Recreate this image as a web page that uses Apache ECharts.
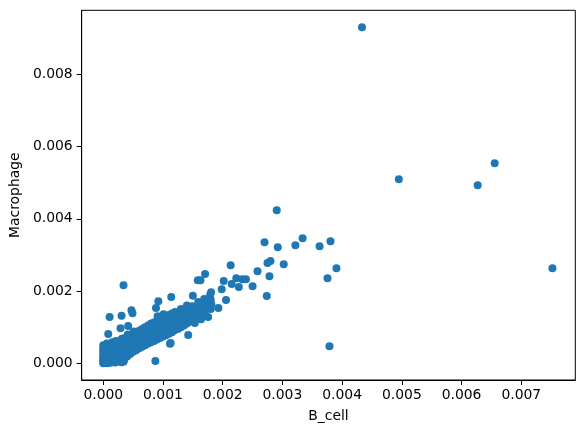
<!DOCTYPE html>
<html>
<head>
<meta charset="utf-8">
<script src="https://cdn.jsdelivr.net/npm/echarts@6/dist/echarts.min.js"></script>
<style>
  html, body { margin: 0; padding: 0; background: #fff; }
  #chart { width: 584px; height: 433px; }
</style>
</head>
<body>
<div id="chart"></div>
<script>
// B_cell vs Macrophage, one point per sample
const bCell = [
  // dense cluster near the origin
  0.0, 0.0, 0.0, 0.0, 0.0, 0.0, 0.0, 0.0, 0.0,
  0.00003, 0.00003, 0.00003, 0.00003,
  0.00006, 0.00006, 0.00006, 0.00006, 0.00007, 0.00006,
  0.0001, 0.0001, 0.00011, 0.0001, 0.0001,
  0.00015, 0.00014, 0.00015, 0.00016, 0.00015,
  0.0002, 0.00021, 0.0002, 0.00019, 0.0002, 0.00021,
  0.00025, 0.00024, 0.00026, 0.00025, 0.00025,
  0.0003, 0.00031, 0.0003, 0.00029, 0.0003, 0.00031, 0.00034,
  0.00035, 0.00036, 0.00035, 0.00034, 0.00035, 0.00036,
  0.0004, 0.00041, 0.0004, 0.00039, 0.0004, 0.00041,
  0.00045, 0.00046, 0.00045, 0.00044, 0.00045,
  0.0005, 0.00051, 0.0005, 0.00049, 0.0005, 0.00051,
  0.00055, 0.00056, 0.00055, 0.00054, 0.00055,
  0.0006, 0.00061, 0.0006, 0.00059, 0.0006,
  0.00065, 0.00066, 0.00065, 0.00064, 0.00065,
  0.0007, 0.00071, 0.0007, 0.00069, 0.0007,
  0.00075, 0.00076, 0.00075, 0.00074, 0.00075,
  0.0008, 0.00081, 0.0008, 0.00079, 0.0008,
  0.00085, 0.00086, 0.00085, 0.00084, 0.00085,
  0.0009, 0.00091, 0.0009, 0.00089, 0.0009, 0.00091,
  0.00095, 0.00096, 0.00095, 0.00094, 0.00095,
  0.001, 0.00101, 0.001, 0.00099, 0.001, 0.00101,
  0.00105, 0.00106, 0.00105, 0.00104, 0.00105,
  0.0011, 0.00111, 0.0011, 0.00109, 0.0011,
  0.00115, 0.00116, 0.00115, 0.00114, 0.00115,
  0.0012, 0.00121, 0.0012, 0.00119, 0.0012,
  0.00125, 0.00126, 0.00125, 0.00124,
  0.0013, 0.00131, 0.0013, 0.00129, 0.0013,
  0.00135, 0.00136, 0.00135, 0.00134,
  0.0014, 0.00141, 0.0014, 0.00139, 0.0014,
  0.00145, 0.00146, 0.00145, 0.00144,
  0.0015, 0.00151, 0.0015, 0.00149,
  0.0016, 0.00161, 0.0016, 0.00159,
  0.0017, 0.00171, 0.0017, 0.00169,
  0.0018, 0.00181, 0.0018, 0.00179,
  // scattered points
  0.000106, 0.000306, 0.000472, 0.000489, 0.0000833, 0.000289, 0.000417, 0.000339,
  0.000872, 0.000922, 0.000883, 0.001117, 0.001128, 0.001138, 0.001339, 0.001422,
  0.0015, 0.001533, 0.001539, 0.001583, 0.001628, 0.001638, 0.001705, 0.001755,
  0.001805, 0.001928, 0.001983, 0.002017, 0.002055, 0.002133, 0.00215, 0.002228,
  0.00227, 0.002328, 0.002389, 0.0025, 0.002583, 0.0027, 0.002738, 0.00275,
  0.0028, 0.002783, 0.002905, 0.002922, 0.003022, 0.003217, 0.003338, 0.003622,
  0.003755, 0.003788, 0.003805, 0.003905, 0.004333, 0.00495, 0.00627, 0.006555,
  0.007522
];
const macrophage = [
  0.0, 0.00005, 0.0001, 0.00015, 0.0002, 0.00028, 0.00035, 0.00042, 0.0005,
  0.00002, 0.00012, 0.00025, 0.0004,
  0.0, 0.00008, 0.00018, 0.0003, 0.00045, 0.00055,
  0.00001, 0.0001, 0.0002, 0.00033, 0.00047,
  0.00003, 0.00014, 0.00026, 0.0004, 0.00058,
  0.00002, 0.00011, 0.00022, 0.00035, 0.0005, 0.00062,
  0.00006, 0.00017, 0.0003, 0.00044, 0.00057,
  0.00003, 0.00013, 0.00025, 0.0004, 0.00055, 0.00068, 0.00004,
  0.0001, 0.00022, 0.00035, 0.00048, 0.0006, 0.0007,
  0.00019, 0.0003, 0.00042, 0.00055, 0.00067, 0.0008,
  0.00026, 0.00038, 0.0005, 0.00062, 0.00075,
  0.00032, 0.00044, 0.00056, 0.00068, 0.0008, 0.00088,
  0.00036, 0.00048, 0.0006, 0.00072, 0.00085,
  0.00042, 0.00054, 0.00066, 0.00078, 0.0009,
  0.00046, 0.00058, 0.0007, 0.00083, 0.00095,
  0.0005, 0.00062, 0.00074, 0.00087, 0.001,
  0.00055, 0.00067, 0.0008, 0.00092, 0.00105,
  0.00058, 0.0007, 0.00083, 0.00096, 0.0011,
  0.00062, 0.00075, 0.00088, 0.001, 0.00113,
  0.00066, 0.00079, 0.00092, 0.00105, 0.00118, 0.0013,
  0.0007, 0.00083, 0.00097, 0.0011, 0.00122,
  0.00074, 0.00087, 0.001, 0.00113, 0.00126, 0.00136,
  0.00078, 0.00091, 0.00104, 0.00117, 0.0013,
  0.00082, 0.00095, 0.00108, 0.00122, 0.00134,
  0.00086, 0.00099, 0.00112, 0.00126, 0.00138,
  0.00092, 0.00104, 0.00117, 0.0013, 0.00142,
  0.00095, 0.00108, 0.0012, 0.00133,
  0.001, 0.00113, 0.00125, 0.00138, 0.0015,
  0.00105, 0.00117, 0.0013, 0.00143,
  0.0011, 0.00122, 0.00135, 0.00148, 0.0016,
  0.00116, 0.00128, 0.0014, 0.00153,
  0.0012, 0.00133, 0.00146, 0.00158,
  0.00132, 0.00145, 0.00158, 0.0017,
  0.0014, 0.00153, 0.00166, 0.00178,
  0.0015, 0.00163, 0.00176, 0.0019,
  0.001282, 0.001318, 0.001467, 0.001384, 0.000811, 0.000969, 0.001033, 0.002159,
  0.0000637, 0.001716, 0.001531, 0.000543, 0.00056, 0.001835, 0.001412, 0.000783,
  0.001872, 0.001116, 0.001365, 0.002298, 0.002298, 0.001218, 0.002472, 0.001282,
  0.001965, 0.001531, 0.002048, 0.002278, 0.001752, 0.002713, 0.002195, 0.002353,
  0.002112, 0.002325, 0.002325, 0.002131, 0.002547, 0.00335, 0.001863, 0.002777,
  0.002832, 0.002408, 0.004235, 0.003211, 0.00274, 0.003266, 0.00346, 0.003239,
  0.002353, 0.000471, 0.003377, 0.00263, 0.0093, 0.005093, 0.004927, 0.005536,
  0.00263
];
const xTicks = [0, 0.001, 0.002, 0.003, 0.004, 0.005, 0.006, 0.007];
const yTicks = [0, 0.002, 0.004, 0.006, 0.008];

const points = bCell.map((x, i) => [x, macrophage[i]]);

const chart = echarts.init(document.getElementById('chart'));
const font = 'DejaVu Sans';
chart.setOption({
  animation: false,
  grid: {
    left: 79.3, right: 8.7, top: 10.3, bottom: 53,
    show: true, borderColor: '#000', borderWidth: 1, backgroundColor: 'transparent'
  },
  xAxis: {
    type: 'value',
    min: -0.000362, max: 0.007905,
    name: 'B_cell', nameLocation: 'middle', nameGap: 29,
    nameTextStyle: { color: '#000', fontFamily: font, fontSize: 13.9 },
    axisLine: { show: true, onZero: false, lineStyle: { color: '#000', width: 1 } },
    axisTick: { show: true, inside: false, length: 5, customValues: xTicks, lineStyle: { color: '#000' } },
    axisLabel: {
      customValues: xTicks, margin: 8, color: '#000', fontFamily: font, fontSize: 13.9,
      formatter: v => v.toFixed(3)
    },
    splitLine: { show: false }
  },
  yAxis: {
    type: 'value',
    min: -0.000462, max: 0.009772,
    name: 'Macrophage', nameLocation: 'middle', nameGap: 52, nameRotate: 90,
    nameTextStyle: { color: '#000', fontFamily: font, fontSize: 13.9 },
    axisLine: { show: true, onZero: false, lineStyle: { color: '#000', width: 1 } },
    axisTick: { show: true, inside: false, length: 5, customValues: yTicks, lineStyle: { color: '#000' } },
    axisLabel: {
      customValues: yTicks, margin: 9, color: '#000', fontFamily: font, fontSize: 13.9,
      formatter: v => v.toFixed(3)
    },
    splitLine: { show: false }
  },
  series: [{
    type: 'scatter',
    data: points,
    symbol: 'circle',
    symbolSize: 8,
    itemStyle: { color: '#1f77b4', opacity: 1 }
  }]
});
</script>
</body>
</html>
